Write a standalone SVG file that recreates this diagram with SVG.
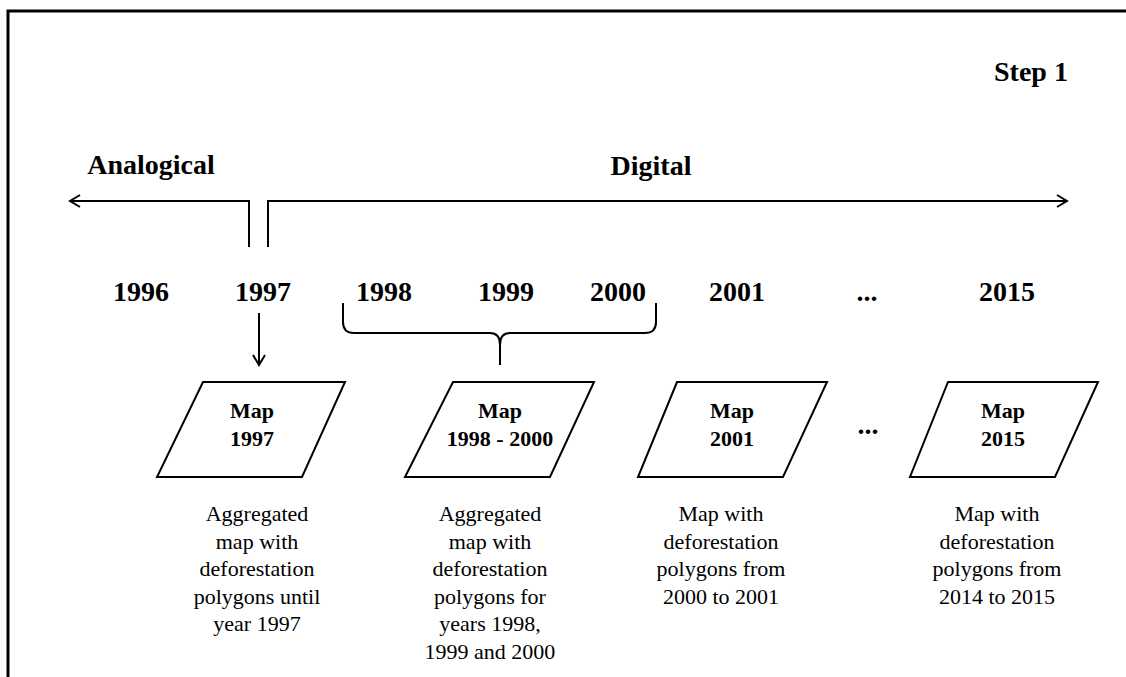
<svg xmlns="http://www.w3.org/2000/svg" width="1126" height="677" viewBox="0 0 1126 677">
<defs>
<style>
.b{font-family:"Liberation Serif","Times New Roman",serif;font-weight:bold;fill:#000;text-anchor:middle}
.h{font-size:28px}
.m{font-size:22px}
.d{font-family:"Liberation Serif","Times New Roman",serif;font-size:22px;fill:#000;text-anchor:middle}
.ln{fill:none;stroke:#000;stroke-width:2}
.pg{fill:#fff;stroke:#000;stroke-width:2;stroke-linejoin:miter}
</style>
<marker id="ah" markerWidth="14" markerHeight="14" refX="11" refY="7" orient="auto" markerUnits="userSpaceOnUse">
<path d="M1,1 L11,7 L1,13" fill="none" stroke="#000" stroke-width="2"/>
</marker>
</defs>
<rect width="1126" height="677" fill="#fff"/>
<path d="M8,677 L8,11 L1126,11" fill="none" stroke="#000" stroke-width="3"/>
<g id="labels">
<text class="b h" x="1031" y="81">Step 1</text>
<text class="b h" x="151" y="174">Analogical</text>
<text class="b h" x="651" y="175">Digital</text>
</g>
<g id="years">
<text class="b h" x="141" y="301">1996</text>
<text class="b h" x="263" y="301">1997</text>
<text class="b h" x="384" y="301">1998</text>
<text class="b h" x="506" y="301">1999</text>
<text class="b h" x="618" y="301">2000</text>
<text class="b h" x="737" y="301">2001</text>
<text class="b h" x="867" y="301">...</text>
<text class="b h" x="1007" y="301">2015</text>
</g>
<g id="connectors">
<path class="ln" d="M249,247 L249,201 L70,201" marker-end="url(#ah)"/>
<path class="ln" d="M268,247 L268,201 L1067,201" marker-end="url(#ah)"/>
<path class="ln" d="M259,313 L259,365" marker-end="url(#ah)"/>
<path class="ln" d="M343,303 L343,322 Q343,333 354,333 L490,333 Q500,333 500,345 L500,365 M500,345 Q500,333 510,333 L645,333 Q656,333 656,322 L656,303"/>
</g>
<g id="map1997">
<polygon class="pg" points="203,382 345,382 302,477 157,477"/>
<text class="b m" x="252" y="418">Map</text>
<text class="b m" x="252" y="446">1997</text>
</g>
<g id="map1998">
<polygon class="pg" points="453,382 594,382 550,477 405,477"/>
<text class="b m" x="500" y="418">Map</text>
<text class="b m" x="500" y="446">1998 - 2000</text>
</g>
<g id="map2001">
<polygon class="pg" points="677,382 827,382 783,477 638,477"/>
<text class="b m" x="732" y="418">Map</text>
<text class="b m" x="732" y="446">2001</text>
</g>
<text class="b h" x="868" y="434">...</text>
<g id="map2015">
<polygon class="pg" points="948,382 1098,382 1055,477 910,477"/>
<text class="b m" x="1003" y="418">Map</text>
<text class="b m" x="1003" y="446">2015</text>
</g>
<g id="desc1">
<text class="d" x="257" y="521">Aggregated</text>
<text class="d" x="257" y="549">map with</text>
<text class="d" x="257" y="576">deforestation</text>
<text class="d" x="257" y="604">polygons until</text>
<text class="d" x="257" y="631">year 1997</text>
</g>
<g id="desc2">
<text class="d" x="490" y="521">Aggregated</text>
<text class="d" x="490" y="549">map with</text>
<text class="d" x="490" y="576">deforestation</text>
<text class="d" x="490" y="604">polygons for</text>
<text class="d" x="490" y="631">years 1998,</text>
<text class="d" x="490" y="659">1999 and 2000</text>
</g>
<g id="desc3">
<text class="d" x="721" y="521">Map with</text>
<text class="d" x="721" y="549">deforestation</text>
<text class="d" x="721" y="576">polygons from</text>
<text class="d" x="721" y="604">2000 to 2001</text>
</g>
<g id="desc4">
<text class="d" x="997" y="521">Map with</text>
<text class="d" x="997" y="549">deforestation</text>
<text class="d" x="997" y="576">polygons from</text>
<text class="d" x="997" y="604">2014 to 2015</text>
</g>
</svg>
